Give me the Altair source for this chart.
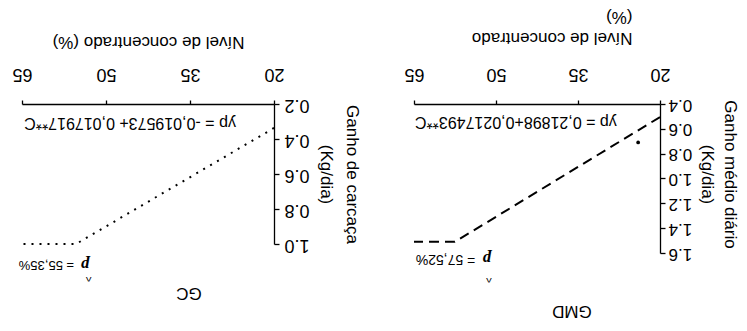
import altair as alt
import pandas as pd

FONT = "Liberation Sans"

# ---- data read from the (upside-down) reference ----
conc_ticks = [20, 35, 50, 65]

gc_conc = [20, 55.35, 65]
gc_gain = [0.337, 1.0, 1.0]
gc_y_ticks = [0.2, 0.4, 0.6, 0.8, 1.0]

gmd_conc = [20, 57.52, 65]
gmd_gain = [0.505, 1.51, 1.51]
gmd_y_ticks = [0.4, 0.6, 0.8, 1.0, 1.2, 1.4, 1.6]
gmd_obs_conc = [24]
gmd_obs_gain = [0.71]

gc_equation = "yp = -0,019573+ 0,017917**C"
gmd_equation = "yp = 0,21898+0,0217493**C"
gc_plateau_text = "= 55,35%"
gmd_plateau_text = "= 57,52%"


def x_axis(title, title_x, title_y, title_align, line_height):
    return alt.Axis(
        orient="top", values=conc_ticks, format="d", grid=False,
        labelAngle=180, labelAlign="center", labelBaseline="middle",
        labelFlush=False, labelOverlap=False, labelPadding=27, tickSize=4,
        labelFontSize=18,
        title=title, titleAngle=180, titleX=title_x, titleY=title_y,
        titleAlign=title_align, titleBaseline="middle", titleFontSize=17,
        titleLineHeight=line_height,
    )


def y_axis(title, ticks, title_x, title_y, line_height, label_size, label_pad):
    return alt.Axis(
        orient="right", values=ticks, format=".1f", grid=False,
        labelAngle=180, labelAlign="right", labelBaseline="middle",
        labelOverlap=False, labelPadding=label_pad, tickSize=5,
        labelFontSize=label_size,
        title=title, titleAngle=90, titleX=title_x, titleY=title_y,
        titleAlign="center", titleBaseline="middle", titleFontSize=17,
        titleLineHeight=line_height,
    )


def make_ann(xenc, yenc):
    def ann(x, y, text, size, align="left", font=FONT, style="normal", weight="normal"):
        df = pd.DataFrame({"conc": [x], "gain": [y]})
        return alt.Chart(df).mark_text(
            angle=180, align=align, baseline="middle", font=font,
            fontSize=size, fontStyle=style, fontWeight=weight, color="black",
        ).encode(x=xenc, y=yenc, text=alt.value(text))
    return ann


# ---------------- GC panel ----------------
gc_df = pd.DataFrame({"conc": gc_conc, "gain": gc_gain})
gc_x = alt.X("conc:Q",
             scale=alt.Scale(domain=[20, 65], reverse=True, nice=False, zero=False),
             axis=x_axis("Nível de concentrado (%)", 126, -63, "center", 20))
gc_y = alt.Y("gain:Q",
             scale=alt.Scale(domain=[0.2, 1.0], reverse=True, nice=False, zero=False),
             axis=y_axis(["Ganho de carcaça", "(Kg/dia)"], gc_y_ticks, 77, 70, 26, 18, 5))
gc_ann = make_ann(gc_x, gc_y)

gc_line = alt.Chart(gc_df).mark_line(
    color="black", strokeWidth=2, strokeDash=[2, 6]
).encode(x=gc_x, y=gc_y, order=alt.Order("conc:Q"))

gc = alt.layer(
    gc_line,
    gc_ann(26.8, 0.31, gc_equation, 16),
    gc_ann(53.0, 1.12, "p", 17, font="Liberation Serif", style="italic", weight="bold"),
    gc_ann(55.7, 1.12, gc_plateau_text, 13),
    gc_ann(53.1, 1.19, "^", 12, align="center"),
    gc_ann(35.2, 1.28, "GC", 17, align="center"),
).properties(width=252, height=140)

# ---------------- GMD panel ----------------
gmd_df = pd.DataFrame({"conc": gmd_conc, "gain": gmd_gain})
gmd_obs = pd.DataFrame({"conc": gmd_obs_conc, "gain": gmd_obs_gain})
gmd_x = alt.X("conc:Q",
              scale=alt.Scale(domain=[20, 65], reverse=True, nice=False, zero=False),
              axis=x_axis(["Nível de concentrado", "(%)"], 218, -67, "left", 21))
gmd_y = alt.Y("gain:Q",
              scale=alt.Scale(domain=[0.4, 1.6], reverse=True, nice=False, zero=False),
              axis=y_axis(["Ganho médio diário", "(Kg/dia)"], gmd_y_ticks, 69, 70, 23, 17, 3))
gmd_ann = make_ann(gmd_x, gmd_y)

gmd_line = alt.Chart(gmd_df).mark_line(
    color="black", strokeWidth=2, strokeDash=[10, 6]
).encode(x=gmd_x, y=gmd_y, order=alt.Order("conc:Q"))

gmd_pt = alt.Chart(gmd_obs).mark_point(
    filled=True, color="black", size=14, opacity=1
).encode(x=gmd_x, y=gmd_y)

gmd = alt.layer(
    gmd_line,
    gmd_pt,
    gmd_ann(27.9, 0.545, gmd_equation, 16),
    gmd_ann(50.9, 1.65, "p", 17, font="Liberation Serif", style="italic", weight="bold"),
    gmd_ann(53.8, 1.65, gmd_plateau_text, 14),
    gmd_ann(51.3, 1.80, "^", 12, align="center"),
    gmd_ann(36.1, 2.07, "GMD", 17, align="center"),
).properties(width=246, height=149)

chart = alt.hconcat(gc, gmd, spacing=43).properties(
    padding={"left": 3, "top": 0, "right": 0, "bottom": 0},
    background="white",
).configure_view(stroke=None).configure_axis(
    domainColor="black", tickColor="black", labelColor="black",
    titleColor="black", labelFont=FONT, titleFont=FONT,
    titleFontWeight="normal", domainWidth=1.3, tickWidth=1.3,
)

chart.save("out.html", embed_options={"renderer": "svg", "actions": False})
